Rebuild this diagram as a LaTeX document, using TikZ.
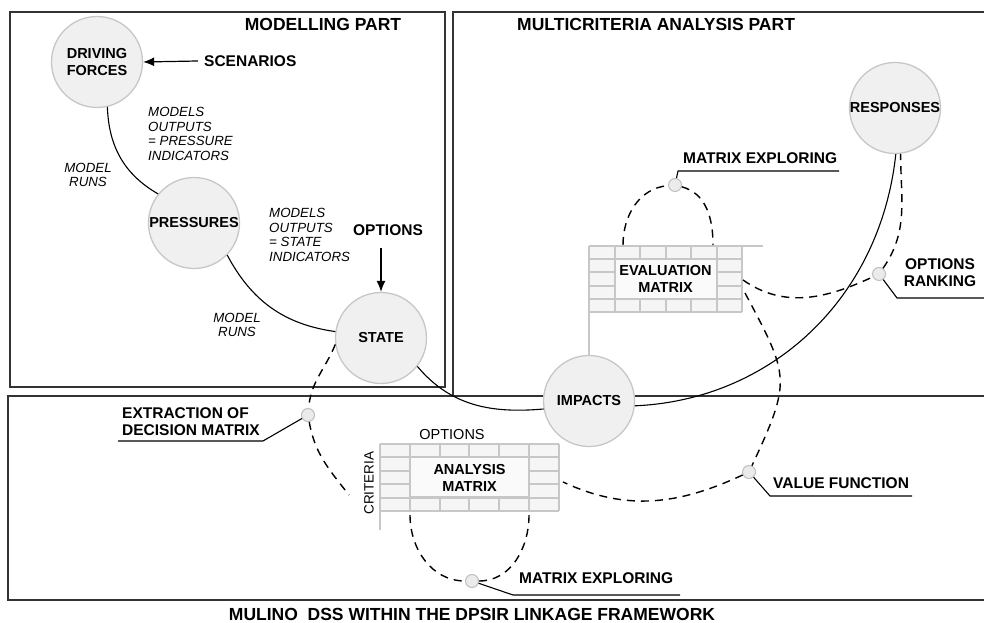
\documentclass[tikz,border=0pt]{standalone}
\usepackage{fontspec}
\setmainfont{Liberation Sans}
\usetikzlibrary{arrows.meta}

\tikzstyle{stage} = [circle, minimum size=91pt, inner sep=0pt, draw=black!22, line width=1.3pt, fill=black!6, align=center, font=\bfseries\fontsize{14.5}{17}\selectfont]
\tikzstyle{knot} = [circle, minimum size=13pt, inner sep=0pt, draw=black!25, line width=1pt, fill=black!8]
\tikzstyle{tag} = [inner sep=0pt, align=left, font=\bfseries\fontsize{15.5}{17}\selectfont]
\tikzstyle{note} = [inner sep=0pt, align=left, font=\itshape\fontsize{13.3}{14.7}\selectfont]
\tikzstyle{heading} = [inner sep=0pt, font=\bfseries\fontsize{17.5}{20}\selectfont]
\tikzstyle{core} = [rectangle, inner sep=0pt, draw=black!22, line width=2pt, fill=black!2, align=center, font=\bfseries\fontsize{14.5}{17}\selectfont]
\tikzstyle{cell} = [draw=black!22, line width=2pt]
\tikzstyle{frame} = [draw=black!80, line width=1.3pt]
\tikzstyle{flow} = [line width=1.1pt]
\tikzstyle{link} = [line width=1.4pt, dash pattern=on 8pt off 6pt]
\tikzstyle{leader} = [line width=1.1pt]
\tikzstyle{arrow} = [line width=1.2pt, -{Latex[length=11pt,width=9pt]}]

\begin{document}
\begin{tikzpicture}[x=1pt, y=1pt]
        \useasboundingbox (0,0) rectangle (984,623);

        % frames
        \draw[frame] (10,611) rectangle (445,236);
        \draw[frame] (453,227) -- (453,611) -- (990,611);
        \draw[frame] (8,227) rectangle (990,23);

        % DPSIR stages
        \node[stage] (driving) at (97,561) {DRIVING\\FORCES};
        \node[stage] (pressures) at (194,400) {PRESSURES};
        \node[stage] (state) at (381,285) {STATE};
        \node[stage] (impacts) at (589,222) {IMPACTS};
        \node[stage] (responses) at (895,515) {RESPONSES};

        % analysis matrix
        \fill[black!4] (380,112) rectangle (559,179);
        \foreach \i in {0,...,6}
            \draw[cell] ({380+\i*29.83},112) -- ++(0,67);
        \foreach \j in {0,...,5}
            \draw[cell] (380,{112+\j*13.4}) -- ++(179,0);
        \draw[cell] (380,112) -- (380,93);
        \node[core, minimum width=119pt, minimum height=40pt] (analysis) at (469.5,145.5) {ANALYSIS\\MATRIX};

        % evaluation matrix
        \fill[black!4] (589,311) rectangle (742,377);
        \foreach \i in {0,...,6}
            \draw[cell] ({589+\i*25.5},311) -- ++(0,66);
        \foreach \j in {0,...,5}
            \draw[cell] (589,{311+\j*13.2}) -- ++(153,0);
        \draw[cell] (742,377) -- (763,377);
        \draw[cell] (589,311) -- (impacts.north);
        \node[core, minimum width=102pt, minimum height=39.6pt] (evaluation) at (665.5,344) {EVALUATION\\MATRIX};

        % headings and labels
        \node[heading] (modelling) at (323,599) {MODELLING PART};
        \node[heading, anchor=west] (mca) at (517,599) {MULTICRITERIA ANALYSIS PART};
        \node[heading] (caption) at (472,8.5) {MULINO~~DSS WITHIN THE DPSIR LINKAGE FRAMEWORK};
        \node[tag, anchor=west] (scenarios) at (204,562) {SCENARIOS};
        \node[tag] (options) at (388,393) {OPTIONS};
        \node[note, anchor=west] (pout) at (148,489) {MODELS\\OUTPUTS\\= PRESSURE\\INDICATORS};
        \node[note, align=center] (runs1) at (88,448) {MODEL\\RUNS};
        \node[note, anchor=west] (sout) at (269,388) {MODELS\\OUTPUTS\\= STATE\\INDICATORS};
        \node[note, align=center] (runs2) at (237,298) {MODEL\\RUNS};
        \node[tag, anchor=west] (extractlbl) at (122,201.5) {EXTRACTION OF\\DECISION MATRIX};
        \node[tag, anchor=west] (explore2lbl) at (683,465) {MATRIX EXPLORING};
        \node[tag, align=center] (rankinglbl) at (940,350) {OPTIONS\\RANKING};
        \node[tag, anchor=west] (valuelbl) at (773,140) {VALUE FUNCTION};
        \node[tag, anchor=west] (explore1lbl) at (519,45) {MATRIX EXPLORING};
        \node[inner sep=0pt, font=\fontsize{14.5}{17}\selectfont] (optlbl) at (452,188) {OPTIONS};
        \node[inner sep=0pt, rotate=90, font=\fontsize{13.5}{16}\selectfont] (critlbl) at (369,140) {CRITERIA};

        % small knots on the dashed links
        \node[knot] (extract) at (308,208) {};
        \node[knot] (explore1) at (472,42) {};
        \node[knot] (explore2) at (675,438) {};
        \node[knot] (ranking) at (879,349) {};
        \node[knot] (value) at (749,151) {};

        % ports on the matrices
        \coordinate (analysis-l) at (349,128);
        \coordinate (analysis-bl) at (410,108);
        \coordinate (analysis-br) at (529,108);
        \coordinate (analysis-r) at (563,141);
        \coordinate (evaluation-tl) at (623,378);
        \coordinate (evaluation-tr) at (713,378);
        \coordinate (evaluation-r1) at (743,343);
        \coordinate (evaluation-r2) at (745,330);

        \draw[arrow] ([xshift=-6pt]scenarios.west) -- (driving.east);
        \draw[arrow] ([yshift=-12pt]options.south -| state.north) -- (state.north);

        \draw[flow] (driving.283) to[out=-88, in=150] (pressures.141);
        \draw[flow] (pressures.-44) to[out=-62, in=172] (state.172);
        \draw[flow] (state.-38) to[out=-50, in=185] (impacts.190);
        \draw[flow] (impacts.-6) .. controls (770,223) and (880,323) .. (responses.271);

        \draw[link] (state.188) to[out=-112, in=85] (extract);
        \draw[link] (extract) to[out=-80, in=128] (analysis-l);
        \draw[link] (analysis-bl) to[out=-90, in=180] (explore1) to[out=0, in=-90] (analysis-br);
        \draw[link] (evaluation-tl) to[out=90, in=185] (explore2) to[out=-15, in=90] (evaluation-tr);
        \draw[link] (evaluation-r1) to[out=-35, in=205] (ranking) to[out=55, in=-90] (responses.-83);
        \draw[link] (evaluation-r2) to[out=-62, in=65, looseness=1.4] (value) to[out=205, in=-25] (analysis-r);

        \draw[leader] (extract) -- ++(-45,-26) -- ++(-145,0);
        \draw[leader] (explore2) -- ++(3,14) -- ++(161,0);
        \draw[leader] (ranking) -- ++(18,-24) -- ++(95,0);
        \draw[leader] (value) -- ++(21,-24) -- ++(142,0);
        \draw[leader] (explore1) -- ++(41,-14) -- ++(167,0);

        \end{tikzpicture}
\end{document}
